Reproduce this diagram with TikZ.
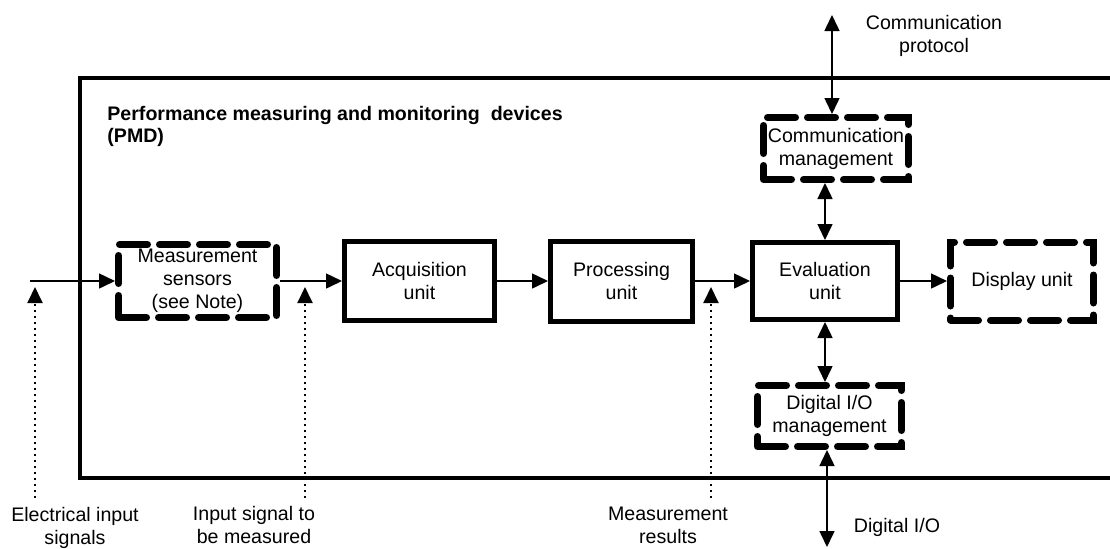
\documentclass[tikz,border=0pt]{standalone}
\usepackage{fontspec}
\setmainfont{Liberation Sans}
\usetikzlibrary{arrows.meta}
\tikzset{
	every node/.style={
		font=\fontsize{9.8}{11.5}\selectfont,
		align=center
	},
	unit/.style={
		shape=rectangle,
		draw,
		line width=2.5pt,
		inner sep=2pt
	},
	optunit/.style={
		shape=rectangle,
		draw,
		line width=3.5pt,
		line cap=round,
		dash pattern=on 14pt off 6pt,
		inner sep=2pt
	},
	flow/.style={
		-{Triangle[length=8pt,width=7.5pt]},
		line width=0.75pt
	},
	link/.style={
		{Triangle[length=8pt,width=7.5pt]}-{Triangle[length=8pt,width=7.5pt]},
		line width=0.75pt
	},
	hint/.style={
		-{Triangle[length=8pt,width=7.5pt]},
		line width=1pt,
		dash pattern=on 1pt off 2pt
	},
	frame/.style={
		line width=2pt
	}
}

\begin{document}
\begin{tikzpicture}[x=0.5pt,y=-0.5pt]
	\useasboundingbox (0,0) rectangle (1110,548);
	\clip (0,0) rectangle (1110,548);
	
	% PMD frame
	\draw[frame] (80,78) rectangle (1130,478);
	\node[anchor=north west, align=left, inner sep=0pt, font=\fontsize{9.8}{11}\selectfont\bfseries] (title) at (107,106)
		{Performance measuring and monitoring~ devices\\(PMD)};
	
	% blocks
	\node[optunit, minimum width=79pt, minimum height=36.5pt]  (sens) at (197.5,281) {Measurement\\sensors\\(see Note)};
	\node[unit, minimum width=75pt, minimum height=39.5pt]     (acq)  at (419.5,281) {Acquisition\\unit};
	\node[unit, minimum width=71pt, minimum height=40pt]       (proc) at (621.5,281) {Processing\\unit};
	\node[unit, minimum width=72.5pt, minimum height=38.5pt]   (eval) at (825,281)   {Evaluation\\unit};
	\node[optunit, minimum width=71.5pt, minimum height=39pt]  (disp) at (1022,281)  {Display unit};
	\node[optunit, minimum width=72.5pt, minimum height=31pt]  (comm) at (836,148.5) {Communication\\management};
	\node[optunit, minimum width=72pt, minimum height=30.5pt]  (dio)  at (829.5,416) {Digital I/O\\management};
	
	% outside labels
	\node (lblproto) at (934,36)  {Communication\\protocol};
	\node (lbldio)   at (897,527) {Digital I/O};
	\node (lblelec)  at (75,528)  {Electrical input\\signals};
	\node (lblsig)   at (254,525) {Input signal to\\be measured};
	\node (lblres)   at (668,525) {Measurement\\results};
	
	\coordinate (in)      at (30,281);
	\coordinate (protoin) at (832,15);
	\coordinate (dioout)  at (827,547);
	\coordinate (elecfrom) at (35,498);
	\coordinate (electo)   at (35,287);
	\coordinate (sigfrom)  at (305,498);
	\coordinate (sigto)    at (305,287);
	\coordinate (resfrom)  at (711,498);
	\coordinate (resto)    at (711,287);
	
	% signal flow
	\draw[flow] (in) -- (sens.west);
	\draw[flow] (sens.east) -- (acq.west);
	\draw[flow] (acq.east) -- (proc.west);
	\draw[flow] (proc.east) -- (eval.west);
	\draw[flow] (eval.east) -- (disp.west);
	
	\draw[link] (protoin) -- (protoin |- comm.north);
	\draw[link] (eval.north) -- (eval.north |- comm.south);
	\draw[link] (eval.south) -- (eval.south |- dio.north);
	\draw[link] (dioout |- dio.south) -- (dioout);
	
	% pointers to signals
	\draw[hint] (elecfrom) -- (electo);
	\draw[hint] (sigfrom) -- (sigto);
	\draw[hint] (resfrom) -- (resto);
\end{tikzpicture}
\end{document}
